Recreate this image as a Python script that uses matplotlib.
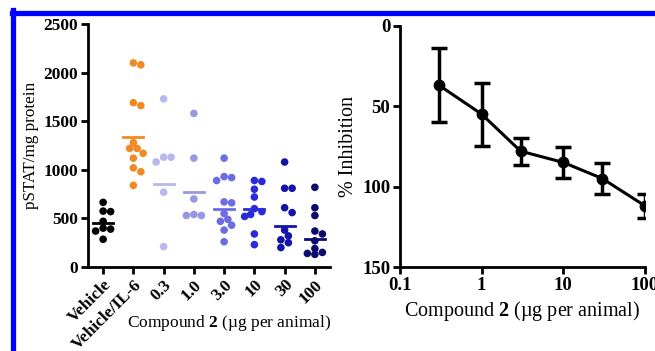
import matplotlib.pyplot as plt
from matplotlib.lines import Line2D
import numpy as np

plt.rcParams['font.family'] = 'Liberation Serif'
plt.rcParams['mathtext.fontset'] = 'custom'
plt.rcParams['mathtext.rm'] = 'Liberation Serif'
plt.rcParams['mathtext.bf'] = 'Liberation Serif:bold'

# left panel: pSTAT per group
groups = ['Vehicle', 'Vehicle/IL-6', '0.3', '1.0', '3.0', '10', '30', '100']
vehicle = [665, 575, 570, 470, 400, 390, 370, 285]
il6 = [2080, 2100, 1690, 1660, 1280, 1220, 1170, 1120, 1220, 1020, 980, 840]
d03 = [1730, 1130, 1130, 1080, 770, 210]
d10 = [1580, 1120, 700, 540, 530, 530]
d30 = [1120, 930, 920, 890, 670, 660, 550, 490, 470, 430, 380, 260]
d100 = [890, 880, 800, 720, 600, 570, 540, 520, 340, 230]
d300 = [1080, 810, 810, 610, 560, 380, 320, 280, 250, 200]
d1000 = [820, 610, 530, 370, 340, 270, 190, 150, 140, 130]
group_means = [456, 1334, 855, 768, 597, 597, 425, 290]
colors = ['#000000', '#f08a24', '#b8b8ec', '#9898e0', '#6c6ce4', '#2a2ad8', '#1414a8', '#0c0c70']

# right panel: % inhibition
dose = [0.3, 1, 3, 10, 30, 100]
inhib = [37, 55, 78, 85, 95, 112]
inhib_err = [23, 19.5, 8.5, 9.5, 9.7, 7.5]

W, H = 655, 351
fig = plt.figure(figsize=(W / 100, H / 100), dpi=100)


def swarm(vals, xpx, ypx, diam):
    # compact beeswarm: small sideways offsets, some overlap allowed
    order = np.argsort(vals)[::-1]
    placed = []
    offs = np.zeros(len(vals))
    cands = [0, 0.5, -0.5, 1.0, -1.0, 1.3, -1.3]
    for i in order:
        best, bestd = 0, -1
        for c in cands:
            dx = c * diam / xpx
            dmin = min([np.hypot((dx - px) * xpx, (vals[i] - py) * ypx)
                        for (px, py) in placed] + [99])
            if dmin >= diam * 0.9:
                best = dx
                break
            if dmin > bestd:
                best, bestd = dx, dmin
        offs[i] = best
        placed.append((best, vals[i]))
    return offs


ax1 = fig.add_axes([88 / W, 1 - 267 / H, 242 / W, 243 / H])
data = [vehicle, il6, d03, d10, d30, d100, d300, d1000]
xpx = 242 / 8.0
ypx = 243 / 2500.0
for i, vals in enumerate(data):
    vals = np.array(vals, float)
    offs = swarm(vals, xpx, ypx, 7.5)
    ax1.scatter(i + offs, vals, s=30, color=colors[i], edgecolors='none', zorder=3)
    ax1.plot([i - 0.33, i + 0.33], [group_means[i]] * 2, color=colors[i], lw=2, zorder=4)

ax1.set_xlim(-0.5, 7.5)
ax1.set_ylim(0, 2500)
ax1.set_yticks([0, 500, 1000, 1500, 2000, 2500])
ax1.set_xticks(range(8))
ax1.set_xticklabels(groups, rotation=45, ha='right', rotation_mode='anchor')
ax1.set_ylabel('pSTAT/mg protein', fontsize=12.3, labelpad=3)
fig.text(229 / W, 1 - 323 / H, r'Compound $\mathbf{2}$ (µg per animal)',
         ha='center', va='center', fontsize=12.5)

ax2 = fig.add_axes([400 / W, 1 - 267 / H, 245 / W, 241.3 / H])
ax2.errorbar(dose, inhib, yerr=inhib_err, color='black', lw=2.2, marker='o', ms=7.5,
             capsize=6, capthick=2.5, elinewidth=2.5)
ax2.set_xscale('log')
ax2.set_xlim(0.1, 100)
ax2.set_ylim(150, 0)
ax2.set_yticks([0, 50, 100, 150])
ax2.set_xticks([0.1, 1, 10, 100])
ax2.set_xticklabels(['0.1', '1', '10', '100'])
ax2.minorticks_off()
ax2.set_ylabel('% Inhibition', fontsize=14.5, labelpad=3)
ax2.set_xlabel(r'Compound $\mathbf{2}$ (µg per animal)', fontsize=14.5, labelpad=4)

for ax, fs in ((ax1, 12.5), (ax2, 13.5)):
    for s in ('top', 'right'):
        ax.spines[s].set_visible(False)
    for s in ('left', 'bottom'):
        ax.spines[s].set_linewidth(2)
    ax.tick_params(width=2, length=5, labelsize=fs, pad=2)
    for lab in ax.get_xticklabels() + ax.get_yticklabels():
        lab.set_fontweight('bold')

# blue frame on top and left
fig.add_artist(Line2D([12 / W, 1], [1 - 12.5 / H] * 2, color='#0000ff', lw=3.8,
                      transform=fig.transFigure))
fig.add_artist(Line2D([12.5 / W] * 2, [0, 1 - 10 / H], color='#0000ff', lw=3.8,
                      transform=fig.transFigure))

fig.savefig('out.png', dpi=100)
